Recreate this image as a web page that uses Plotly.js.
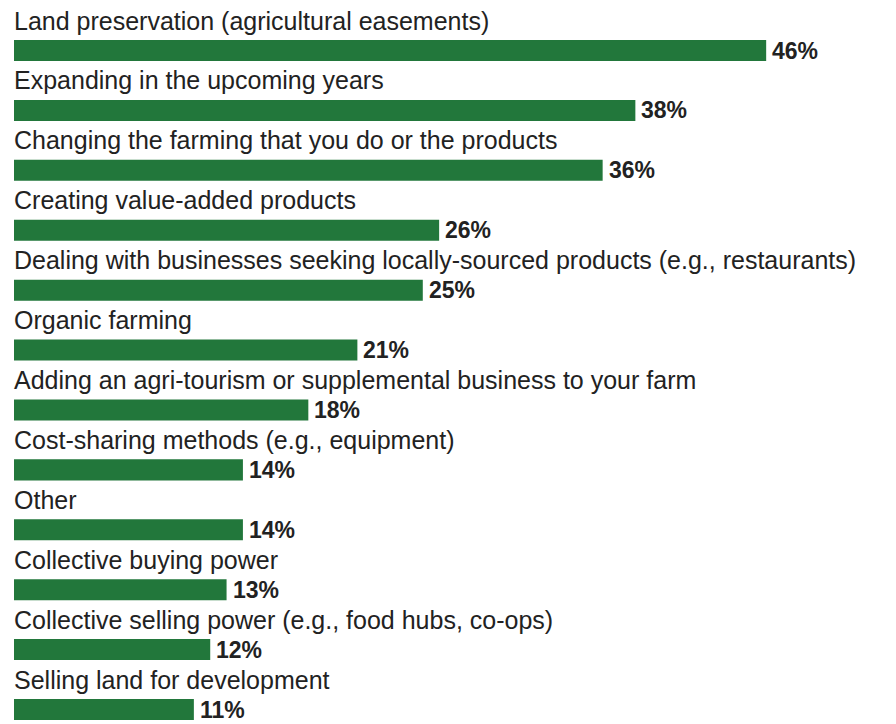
<!DOCTYPE html>
<html>
<head>
<meta charset="utf-8">
<script src="https://cdn.plot.ly/plotly-3.0.1.min.js"></script>
<style>html,body{margin:0;padding:0;background:#fff;}#chart{width:896px;height:724px;}</style>
</head>
<body>
<div id="chart"></div>
<script>
const categories = [
  "Land preservation (agricultural easements)",
  "Expanding in the upcoming years",
  "Changing the farming that you do or the products",
  "Creating value-added products",
  "Dealing with businesses seeking locally-sourced products (e.g., restaurants)",
  "Organic farming",
  "Adding an agri-tourism or supplemental business to your farm",
  "Cost-sharing methods (e.g., equipment)",
  "Other",
  "Collective buying power",
  "Collective selling power (e.g., food hubs, co-ops)",
  "Selling land for development"
];
const values = [46, 38, 36, 26, 25, 21, 18, 14, 14, 13, 12, 11];

const barColor = '#22773b';
const textColor = '#222222';
const fontFamily = 'Liberation Sans, Arial, sans-serif';

const trace = {
  type: 'bar',
  orientation: 'h',
  y: categories,
  x: values,
  marker: {color: barColor, line: {width: 0}},
  hoverinfo: 'skip'
};

const labelAnnotations = categories.map(c => ({
  x: 0, y: c, xref: 'x', yref: 'y',
  text: c, showarrow: false,
  xanchor: 'left', yanchor: 'middle',
  yshift: 30, xshift: -1, borderpad: 0,
  font: {family: fontFamily, size: 25, color: textColor}
}));

const valueAnnotations = categories.map((c, i) => ({
  x: values[i], y: c, xref: 'x', yref: 'y',
  text: values[i] + '%', showarrow: false,
  xanchor: 'left', yanchor: 'middle',
  xshift: 5, yshift: 0, borderpad: 0,
  font: {family: fontFamily, size: 23, color: textColor, weight: 'bold'}
}));

const layout = {
  width: 896, height: 724,
  margin: {l: 14, r: 0, t: 0, b: 0, pad: 0},
  paper_bgcolor: '#ffffff', plot_bgcolor: '#ffffff',
  showlegend: false,
  bargap: 0.649,
  xaxis: {range: [0, 53.94], showgrid: false, zeroline: false, showticklabels: false, showline: false, ticks: ''},
  yaxis: {type: 'category', range: [11.242, -0.843], showgrid: false, zeroline: false, showticklabels: false, showline: false, ticks: ''},
  annotations: labelAnnotations.concat(valueAnnotations)
};

Plotly.newPlot('chart', [trace], layout, {displayModeBar: false, staticPlot: true});
</script>
</body>
</html>
